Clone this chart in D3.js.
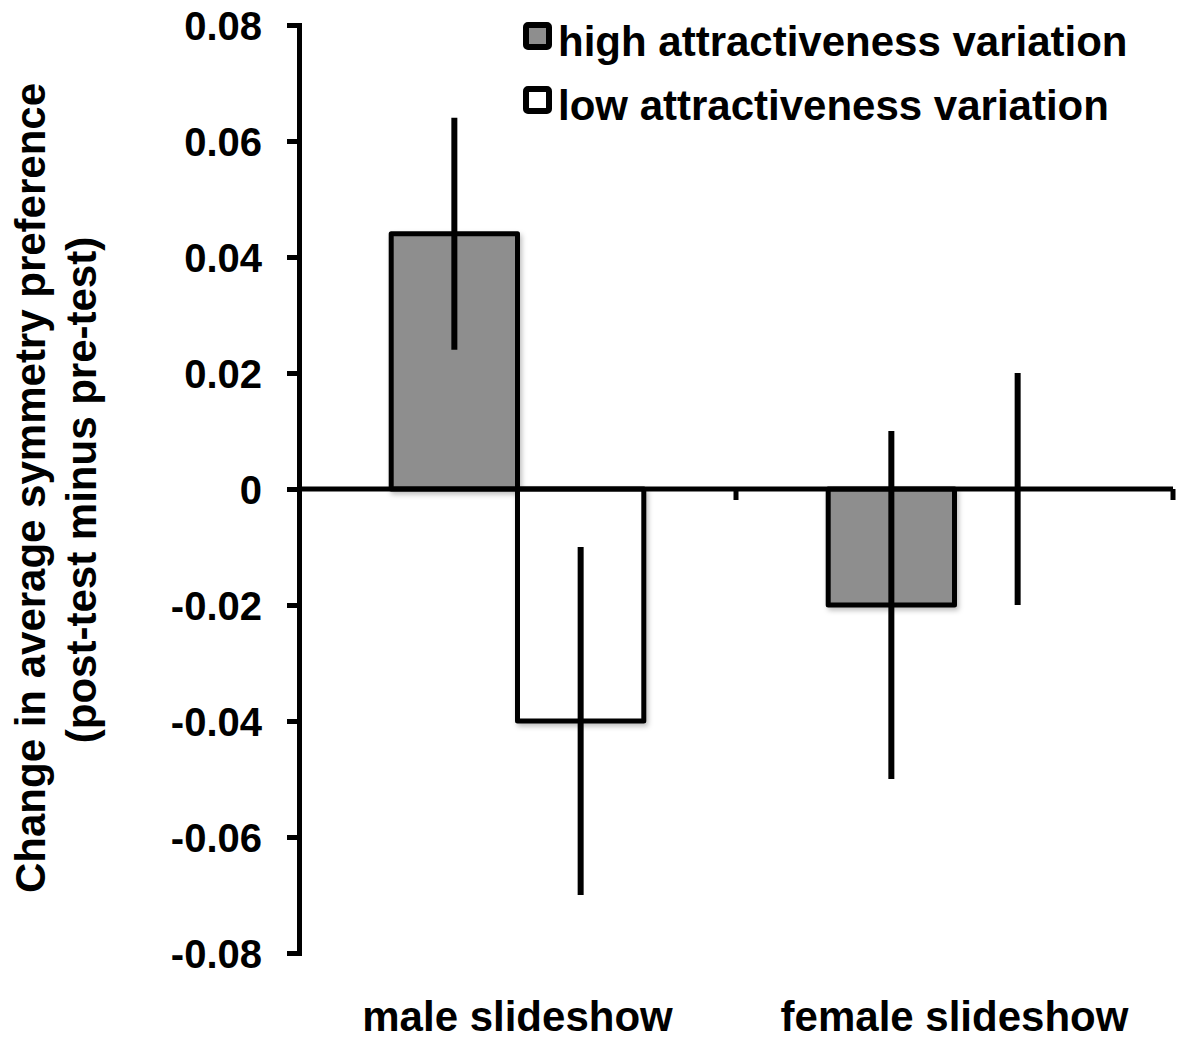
<!DOCTYPE html>
<html>
<head>
<meta charset="utf-8">
<script src="https://cdn.jsdelivr.net/npm/d3@7"></script>
<style>
  body { margin: 0; background: #fff; }
  svg text { font-family: "Liberation Sans", Arial, sans-serif; font-weight: bold; fill: #000; }
</style>
</head>
<body>
<svg id="chart" width="1184" height="1041"></svg>
<script>
let categories = ["male slideshow", "female slideshow"]
let series = ["high attractiveness variation", "low attractiveness variation"]
let highMeans = [0.044, -0.02]
let highErrors = [0.02, 0.03]
let lowMeans = [-0.04, 0.0]
let lowErrors = [0.03, 0.02]
let yTicks = [-0.08, -0.06, -0.04, -0.02, 0, 0.02, 0.04, 0.06, 0.08]
let seriesFill = ["#8e8e8e", "#ffffff"]

let svg = d3.select("#chart")

let y = d3.scaleLinear().domain([-0.08, 0.08]).range([953, 25])
let x0 = d3.scaleBand().domain(categories).range([299, 1173])
let x1 = d3.scaleBand().domain(series).range([0, x0.bandwidth()]).paddingOuter(0.73)
let fill = d3.scaleOrdinal().domain(series).range(seriesFill)

let rows = []
categories.forEach((c, i) => {
    rows.push({cat: c, s: series[0], v: highMeans[i], e: highErrors[i]})
    rows.push({cat: c, s: series[1], v: lowMeans[i], e: lowErrors[i]})
})

// soft shadow under bars
let defs = svg.append("defs")
defs.append("filter")
    .attr("id", "shadow")
    .attr("x", "-10%").attr("y", "-10%").attr("width", "130%").attr("height", "130%")
    .append("feDropShadow")
    .attr("dx", 2).attr("dy", 3).attr("stdDeviation", 2.5)
    .attr("flood-color", "#000").attr("flood-opacity", 0.25)

// bars
svg.append("g")
    .selectAll("rect")
    .data(rows)
    .join("rect")
    .attr("x", d => x0(d.cat) + x1(d.s))
    .attr("width", x1.bandwidth())
    .attr("y", d => y(Math.max(0, d.v)))
    .attr("height", d => Math.abs(y(d.v) - y(0)))
    .attr("fill", d => fill(d.s))
    .attr("stroke", "#000")
    .attr("stroke-width", 5)
    .attr("stroke-linejoin", "round")
    .attr("filter", "url(#shadow)")

// y axis
let axisL = d3.axisLeft(y)
    .tickValues(yTicks)
    .tickFormat(d => d === 0 ? "0" : d.toFixed(2))
    .tickSizeInner(12)
    .tickSizeOuter(0)
    .tickPadding(25)

let gy = svg.append("g")
    .attr("transform", "translate(299,0)")
    .call(axisL)
gy.select(".domain").attr("stroke-width", 5).attr("stroke-linecap", "square")
gy.selectAll(".tick line").attr("stroke-width", 5)
gy.selectAll(".tick text")
    .style("font-size", "40px")
    .attr("dy", "0.36em")

// x axis at zero
let gx = svg.append("g")
gx.append("line")
    .attr("x1", x0.range()[0]).attr("x2", x0.range()[1])
    .attr("y1", y(0)).attr("y2", y(0))
    .attr("stroke", "#000").attr("stroke-width", 5)
gx.selectAll(".sep")
    .data(categories.slice(1).map(c => x0(c)).concat([x0.range()[1]]))
    .join("line")
    .attr("class", "sep")
    .attr("x1", d => d).attr("x2", d => d)
    .attr("y1", y(0)).attr("y2", y(0) + 11)
    .attr("stroke", "#000").attr("stroke-width", 5)

// error bars
svg.append("g")
    .selectAll("line")
    .data(rows)
    .join("line")
    .attr("x1", d => x0(d.cat) + x1(d.s) + x1.bandwidth() / 2)
    .attr("x2", d => x0(d.cat) + x1(d.s) + x1.bandwidth() / 2)
    .attr("y1", d => y(d.v + d.e))
    .attr("y2", d => y(d.v - d.e))
    .attr("stroke", "#000")
    .attr("stroke-width", 6)

// category labels
svg.append("g")
    .selectAll("text")
    .data(categories)
    .join("text")
    .attr("x", d => x0(d) + x0.bandwidth() / 2)
    .attr("y", 1031)
    .attr("text-anchor", "middle")
    .style("font-size", "42px")
    .text(d => d)

// y axis title
let title = svg.append("text")
    .attr("transform", "rotate(-90)")
    .attr("text-anchor", "middle")
    .style("font-size", "42px")
title.append("tspan").attr("x", -488).attr("y", 45).text("Change in average symmetry preference")
title.append("tspan").attr("x", -490).attr("y", 96).text("(post-test minus pre-test)")

// legend
let legend = svg.append("g")
    .selectAll("g")
    .data(series)
    .join("g")
    .attr("transform", (d, i) => `translate(526,${25 + i * 64})`)

legend.append("rect")
    .attr("width", 23).attr("height", 22)
    .attr("rx", 2)
    .attr("fill", d => fill(d))
    .attr("stroke", "#000")
    .attr("stroke-width", 6)

legend.append("text")
    .attr("x", 32)
    .attr("y", 31)
    .style("font-size", "42px")
    .text(d => d)
</script>
</body>
</html>
